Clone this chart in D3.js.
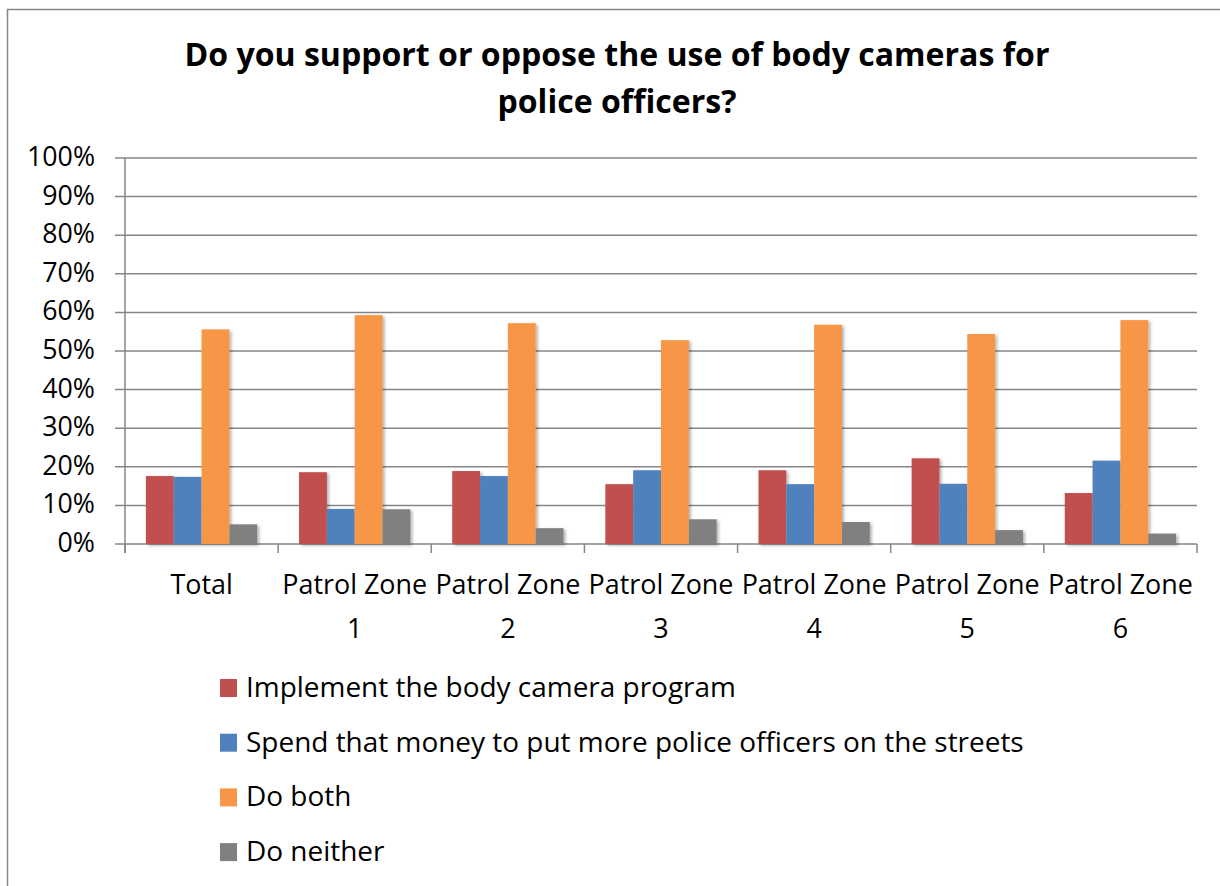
<!DOCTYPE html>
<html><head><meta charset="utf-8">
<script src="https://cdnjs.cloudflare.com/ajax/libs/d3/7.8.5/d3.min.js"></script>
<style>
html,body{margin:0;padding:0;background:#fff;}
svg text{font-family:"Open Sans",Lato,sans-serif;fill:#000;}
</style></head>
<body><svg id="c" width="1220" height="886"></svg>
<script>
const categories = ["Total","Patrol Zone 1","Patrol Zone 2","Patrol Zone 3","Patrol Zone 4","Patrol Zone 5","Patrol Zone 6"];
const seriesNames = ["Implement the body camera program","Spend that money to put more police officers on the streets","Do both","Do neither"];
const implementVals = [17.6,18.6,18.9,15.5,19.1,22.2,13.2];
const spendVals     = [17.4, 9.1,17.6,19.1,15.5,15.6,21.6];
const bothVals      = [55.6,59.3,57.2,52.8,56.8,54.4,58.0];
const neitherVals   = [ 5.1, 9.0, 4.1, 6.4, 5.7, 3.6, 2.7];
const yTicks = [0,10,20,30,40,50,60,70,80,90,100];
const colors = ["#C0504D","#4F81BD","#F79646","#808080"];
const titleLines = ["Do you support or oppose the use of body cameras for","police officers?"];

const series = [implementVals,spendVals,bothVals,neitherVals];
const svg = d3.select("#c");

// fit font size so a sample string reaches a target width
function fitSize(sample, target, weight){
  const t = svg.append("text").attr("font-size",100).attr("font-weight",weight||"normal").text(sample);
  const w = t.node().getComputedTextLength();
  t.remove();
  return 100*target/w;
}
const fsLegend = fitSize(seriesNames[1], 778);
const fsTick = fitSize("Patrol Zone", 145);
const fsY = fitSize("100%", 68);
const fsTitle = fitSize(titleLines[0], 865, "bold");

const defs = svg.append("defs");
const f = defs.append("filter").attr("id","sh").attr("x","-20%").attr("y","-5%").attr("width","150%").attr("height","120%");
f.append("feDropShadow").attr("dx",2).attr("dy",1.5).attr("stdDeviation",1.5).attr("flood-color","#000").attr("flood-opacity",0.3);

// outer frame
svg.append("path").attr("d","M7.5,886 V9.5 H1220").attr("fill","none").attr("stroke","#868686").attr("stroke-width",1.5);

const L=125,R=1197,T=158,B=544;
const x0 = d3.scaleBand().domain(categories).range([L,R]).paddingInner(0.273).paddingOuter(0.1365);
const x1 = d3.scaleBand().domain(d3.range(4)).range([0,x0.bandwidth()]);
const y = d3.scaleLinear().domain([0,100]).range([B,T]);

// gridlines
svg.append("g").selectAll("line").data(yTicks).join("line")
  .attr("x1",L-10).attr("x2",R).attr("y1",d=>y(d)).attr("y2",d=>y(d))
  .attr("stroke","#868686").attr("stroke-width",1.5);
svg.append("line").attr("x1",L).attr("x2",L).attr("y1",T).attr("y2",B+9).attr("stroke","#868686").attr("stroke-width",1.5);
svg.append("g").selectAll("line").data(d3.range(categories.length+1)).join("line")
  .attr("x1",i=>L+i*(R-L)/categories.length).attr("x2",i=>L+i*(R-L)/categories.length)
  .attr("y1",B).attr("y2",B+9).attr("stroke","#868686").attr("stroke-width",1.5);

// y labels
svg.append("g").selectAll("text").data(yTicks).join("text")
  .attr("x",95).attr("y",d=>y(d)+8).attr("text-anchor","end").attr("font-size",fsY).text(d=>d+"%");

// bars
const g = svg.append("g").attr("filter","url(#sh)");
categories.forEach((c,ci)=>{
  series.forEach((s,si)=>{
    g.append("rect").attr("x",x0(c)+x1(si)).attr("width",x1.bandwidth())
      .attr("y",y(s[ci])).attr("height",y(0)-y(s[ci])).attr("fill",colors[si]);
  });
});

// x labels
svg.append("g").selectAll("text").data(categories).join("text")
  .attr("text-anchor","middle").attr("font-size",fsTick)
  .each(function(d){
    const t=d3.select(this);
    const cx = x0(d)+x0.bandwidth()/2;
    if(d.startsWith("Patrol")){
      const parts=d.split(" ");
      t.append("tspan").attr("x",cx).attr("y",594).text(parts[0]+" "+parts[1]);
      t.append("tspan").attr("x",cx).attr("y",638).text(parts[2]);
    } else {
      t.append("tspan").attr("x",cx).attr("y",594).text(d);
    }
  });

// title
svg.append("g").selectAll("text").data(titleLines).join("text")
  .attr("x",617).attr("y",(d,i)=>66+i*47).attr("text-anchor","middle")
  .attr("font-size",fsTitle).attr("font-weight","bold").text(d=>d);

// legend
const lg = svg.append("g").selectAll("g").data(seriesNames).join("g")
  .attr("transform",(d,i)=>`translate(220,${688+i*54.7})`);
lg.append("rect").attr("x",0).attr("y",-9).attr("width",17).attr("height",18).attr("fill",(d,i)=>colors[i]);
lg.append("text").attr("x",26).attr("y",9).attr("font-size",fsLegend).text(d=>d);
</script></body></html>
